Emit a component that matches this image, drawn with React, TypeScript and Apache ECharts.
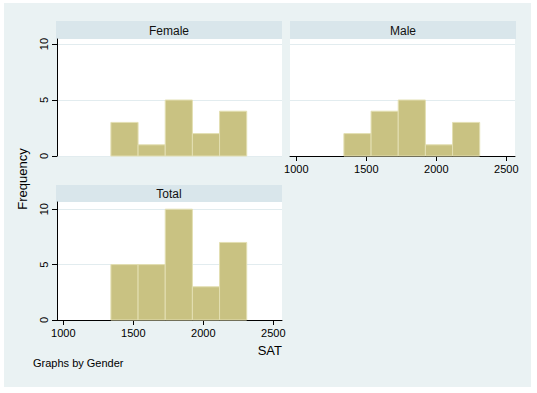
import React, { useEffect, useRef } from "react";
import * as echarts from "echarts";

const binEdges = [1340, 1534, 1728, 1922, 2116, 2310];
const femaleCounts = [3, 1, 5, 2, 4];
const maleCounts = [2, 4, 5, 1, 3];
const totalCounts = [5, 5, 10, 3, 7];
const xTicks = [1000, 1500, 2000, 2500];
const yTicks = [0, 5, 10];
const panelTitles = ["Female", "Male", "Total"];
const xAxisTitle = "SAT";
const yAxisTitle = "Frequency";
const noteText = "Graphs by Gender";

const FONT = "'Liberation Sans', Arial, sans-serif";
const BAR_FILL = "#C9C282";
const BAR_STROKE = "#E3DFB2";
const GRID_LINE = "#E2ECEF";
const BG = "#EAF2F3";
const HEADER = "#D9E6EB";

const panels = [
  { left: 57, top: 39, width: 225, height: 117, counts: femaleCounts, yShow: true, xShow: false, ymax: 10.45 },
  { left: 290, top: 39, width: 225, height: 117, counts: maleCounts, yShow: false, xShow: true, ymax: 10.45 },
  { left: 57, top: 202, width: 225, height: 118, counts: totalCounts, yShow: true, xShow: true, ymax: 10.65 },
];

export default function App() {
  const ref = useRef<HTMLDivElement>(null);
  useEffect(() => {
    if (!ref.current) return;
    const chart = echarts.init(ref.current, undefined, { renderer: "svg" });

    const grids = panels.map((p) => ({
      left: p.left,
      top: p.top,
      width: p.width,
      height: p.height,
      show: true,
      backgroundColor: "#FFFFFF",
      borderWidth: 0,
      containLabel: false,
      outerBoundsMode: "none",
    }));

    const xAxes = panels.map((p, i) => ({
      type: "value",
      gridIndex: i,
      min: 955,
      max: 2562,
      show: p.xShow,
      splitLine: { show: false },
      axisLine: { show: p.xShow, lineStyle: { color: "#000", width: 1 } },
      axisTick: {
        show: p.xShow,
        customValues: xTicks,
        length: 5,
        lineStyle: { color: "#000" },
      },
      axisLabel: {
        show: p.xShow,
        customValues: xTicks,
        margin: 7,
        fontSize: 11,
        fontFamily: FONT,
        color: "#000",
        formatter: (v: number) => String(v),
      },
    }));

    const yAxes = panels.map((p, i) => ({
      type: "value",
      gridIndex: i,
      min: 0,
      max: p.ymax,
      splitLine: { show: true, lineStyle: { color: GRID_LINE, width: 1 } },
      axisLine: { show: p.yShow, onZero: false, lineStyle: { color: "#000", width: 1 } },
      axisTick: { show: p.yShow, customValues: yTicks, length: 5, lineStyle: { color: "#000" } },
      axisLabel: {
        show: p.yShow,
        rotate: 90,
        margin: 8,
        fontSize: 11,
        fontFamily: FONT,
        color: "#000",
        customValues: yTicks,
        formatter: (v: number) => String(v),
      },
    }));

    const series = panels.map((p, i) => ({
      type: "custom",
      xAxisIndex: i,
      yAxisIndex: i,
      encode: { x: [0, 1], y: 2 },
      data: p.counts.map((c, k) => [binEdges[k], binEdges[k + 1], c]),
      renderItem: (params: any, api: any) => {
        const a = api.coord([api.value(0), api.value(2)]);
        const b = api.coord([api.value(1), 0]);
        return {
          type: "rect",
          shape: { x: a[0], y: a[1], width: b[0] - a[0], height: b[1] - a[1] },
          style: { fill: BAR_FILL, stroke: BAR_STROKE, lineWidth: 1 },
        };
      },
    }));

    // gridlines at 5 and 10 drawn as a line series-free markLine alternative: use graphic-free splitLine via custom values
    const headers = [
      { x: 56, y: 21, w: 226, h: 18 },
      { x: 290, y: 21, w: 226, h: 18 },
      { x: 56, y: 185, w: 226, h: 17 },
    ];

    const graphic: any[] = [
      { type: "rect", z: -10, silent: true, shape: { x: 4, y: 3, width: 527, height: 384 }, style: { fill: BG } },
    ];
    headers.forEach((h, i) => {
      graphic.push({ type: "rect", z: -5, shape: { x: h.x, y: h.y, width: h.w, height: h.h }, style: { fill: HEADER } });
      graphic.push({
        type: "text",
        x: h.x + h.w / 2,
        y: h.y + h.h / 2 + 0.5,
        style: {
          text: panelTitles[i],
          fontSize: 12,
          fontFamily: FONT,
          fill: "#111",
          align: "center",
          verticalAlign: "middle",
        },
      });
    });
    graphic.push({
      type: "text",
      x: 22.5,
      y: 179,
      rotation: Math.PI / 2,
      style: {
        text: yAxisTitle,
        fontSize: 13,
        fontFamily: FONT,
        fill: "#000",
        align: "center",
        verticalAlign: "middle",
      },
    });
    graphic.push({
      type: "text",
      x: 282,
      y: 350,
      style: {
        text: xAxisTitle,
        fontSize: 13,
        fontFamily: FONT,
        fill: "#000",
        align: "right",
        verticalAlign: "middle",
      },
    });
    graphic.push({
      type: "text",
      x: 33,
      y: 363,
      style: {
        text: noteText,
        fontSize: 11,
        fontFamily: FONT,
        fill: "#000",
        align: "left",
        verticalAlign: "middle",
      },
    });

    chart.setOption({
      animation: false,
      backgroundColor: "#FFFFFF",
      grid: grids,
      xAxis: xAxes,
      yAxis: yAxes,
      series,
      graphic,
    });
    return () => chart.dispose();
  }, []);
  return <div ref={ref} style={{ position: "absolute", left: 0, top: 0, width: 537, height: 393 }} />;
}
